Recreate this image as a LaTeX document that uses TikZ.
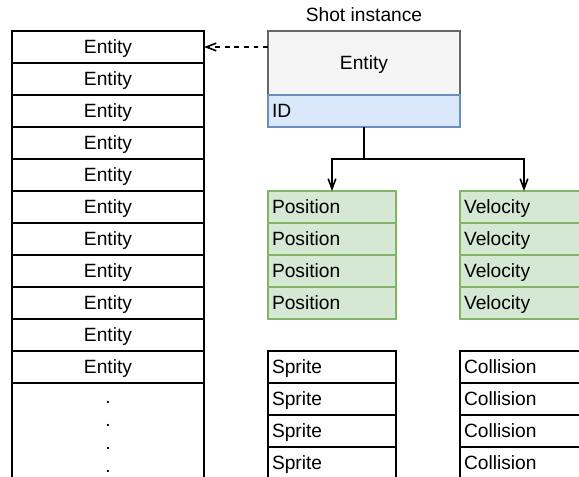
\documentclass[tikz,border=0pt]{standalone}
\usepackage{fontspec}
\setmainfont{Liberation Sans}
\usepackage{tikz}
\usetikzlibrary{arrows.meta}
\definecolor{grayfill}{HTML}{F5F5F5}
\definecolor{grayline}{HTML}{666666}
\definecolor{bluefill}{HTML}{DAE8FC}
\definecolor{blueline}{HTML}{6C8EBF}
\definecolor{greenfill}{HTML}{D5E8D4}
\definecolor{greenline}{HTML}{82B366}

\begin{document}
\begin{tikzpicture}[x=0.5pt, y=-0.5pt, line width=0.8pt,
  font=\fontsize{9.6pt}{11.5pt}\selectfont,
  cell/.style={draw, rectangle, inner sep=0pt, outer sep=0pt, minimum height=16pt, text height=6.9pt, text depth=0pt},
  entitycell/.style={cell, minimum width=96pt},
  fieldcell/.style={cell, inner xsep=2pt, text width=60pt, align=left},
  greencell/.style={fieldcell, draw=greenline, fill=greenfill},
  openhead/.style={-{Straight Barb[length=5pt, width=3.8pt, line width=0.8pt]}}]
\path[use as bounding box, clip] (0,0) rectangle (579,477);
\foreach \i in {1,...,11}\node[entitycell] (Entity\i) at (108, 15+32*\i) {Entity};
\node[draw, rectangle, outer sep=0pt, minimum width=96pt, minimum height=60pt, anchor=north] (EntityMore) at (108, 383) {};
\foreach \y in {403,426,449,472}\node[anchor=base, inner sep=0pt] (Dot\y) at (108,\y) {.};
\node[anchor=base] (ShotLabel) at (364, 21.5) {Shot instance};
\node[cell, minimum width=96pt, minimum height=32pt, draw=grayline, fill=grayfill] (Shot) at (364, 63) {Entity};
\node[fieldcell, text width=92pt, draw=blueline, fill=bluefill] (ID) at (364, 111) {ID};
\foreach \i in {1,...,4}\node[greencell] (Position\i) at (332, 175+32*\i) {Position};
\foreach \i in {1,...,4}\node[greencell] (Velocity\i) at (524, 175+32*\i) {Velocity};
\foreach \i in {1,...,4}\node[fieldcell] (Sprite\i) at (332, 335+32*\i) {Sprite};
\foreach \i in {1,...,4}\node[fieldcell] (Collision\i) at (524, 335+32*\i) {Collision};
\draw[openhead, dash pattern=on 2.4pt off 2.4pt] (Shot.west |- Entity1.east) -- (Entity1.east);
\coordinate (Split) at (364, 159);
\draw (ID.south) -- (Split);
\draw[openhead] (Split) -| (Position1.north);
\draw[openhead] (Split) -| (Velocity1.north);
\end{tikzpicture}
\end{document}
